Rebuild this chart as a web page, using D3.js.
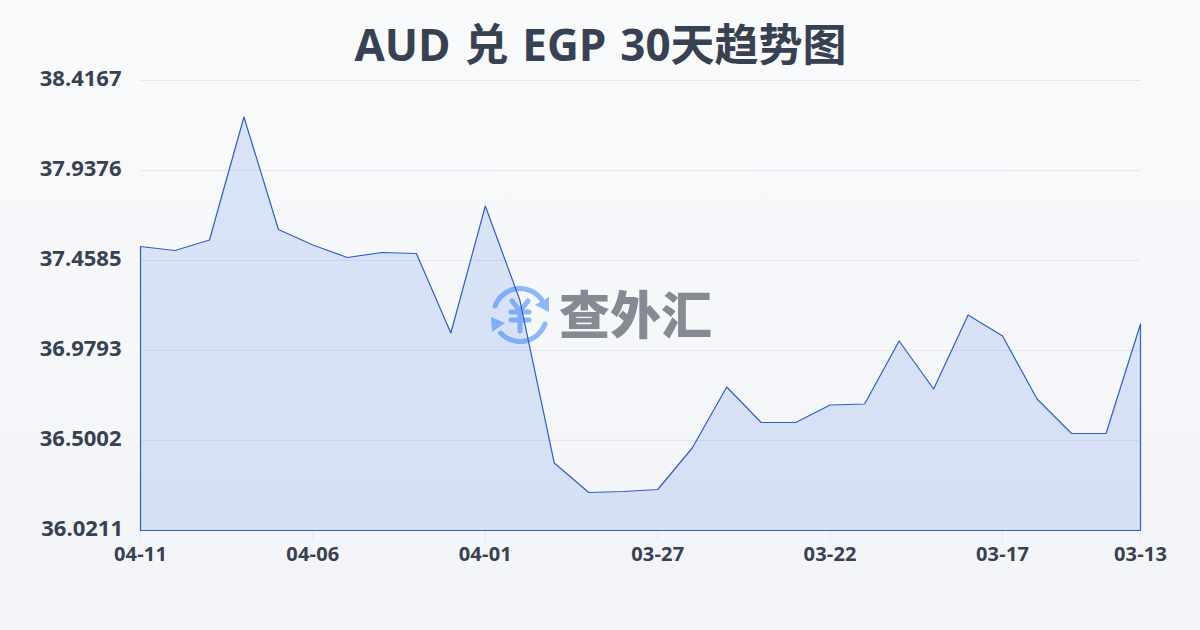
<!DOCTYPE html>
<html><head><meta charset="utf-8">
<script src="https://cdn.jsdelivr.net/npm/d3@7/dist/d3.min.js"></script>
<style>html,body{margin:0;padding:0;background:#f5f7fa}svg{display:block}</style>
</head><body><svg id="c" width="1200" height="630"></svg>
<script>
const titleText = "AUD 兑 EGP 30天趋势图";
const dates = ["04-11","04-10","04-09","04-08","04-07","04-06","04-05","04-04","04-03","04-02","04-01","03-31","03-30","03-29","03-28","03-27","03-26","03-25","03-24","03-23","03-22","03-21","03-20","03-19","03-18","03-17","03-16","03-15","03-14","03-13"];
const rates = [37.5330,37.5116,37.5675,38.2223,37.6234,37.5409,37.4744,37.5010,37.4957,37.0725,37.7485,37.2481,36.3804,36.2234,36.2287,36.2394,36.4603,36.7850,36.5960,36.5960,36.6892,36.6945,37.0299,36.7744,37.1683,37.0565,36.7211,36.5375,36.5375,37.1204];
const yTicks = [36.0211,36.5002,36.9793,37.4585,37.9376,38.4167];
const xTickLabels = ["04-11","04-06","04-01","03-27","03-22","03-17","03-13"];
const watermarkText = "查外汇";

const font = "'Open Sans','Noto Sans CJK SC',sans-serif";
const svg = d3.select("#c");
const defs = svg.append("defs");
const bg = defs.append("linearGradient").attr("id","bg").attr("x1",0).attr("y1",0).attr("x2",0).attr("y2",1);
bg.append("stop").attr("offset","0%").attr("stop-color","#f8fafc");
bg.append("stop").attr("offset","100%").attr("stop-color","#f2f4f7");
svg.append("rect").attr("width",1200).attr("height",630).attr("fill","url(#bg)");

const x = d3.scalePoint().domain(dates).range([140.5,1140.5]);
const y = d3.scaleLinear().domain([36.0211,38.4167]).range([530.5,80.5]);

svg.append("text").attr("x",600.5).attr("y",61).attr("text-anchor","middle").attr("word-spacing",2.4)
  .attr("font-family",font).attr("font-weight",700).attr("font-size",44).attr("fill","#374151").text(titleText);

// grid
svg.append("g").selectAll("line").data(yTicks.slice(1)).join("line")
  .attr("x1",140.5).attr("x2",1140.5).attr("y1",d=>y(d)).attr("y2",d=>y(d))
  .attr("stroke","#e5e7eb").attr("stroke-width",1);

// y labels
svg.append("g").selectAll("text").data(yTicks).join("text")
  .attr("x",(d,i)=>i===0?123:121.5).attr("y",d=>y(d)-3.5).attr("text-anchor","end").attr("dominant-baseline","central")
  .attr("font-family","'Open Sans',sans-serif").attr("font-weight",700).attr("font-size",22).attr("fill","#374151").text(d=>d.toFixed(4));

// x ticks + labels
const xg = svg.append("g");
xg.selectAll("line").data(xTickLabels).join("line")
  .attr("x1",d=>x(d)).attr("x2",d=>x(d)).attr("y1",530.5).attr("y2",541)
  .attr("stroke","#e5e7eb").attr("stroke-width",1);
xg.selectAll("text").data(xTickLabels).join("text")
  .attr("x",d=>x(d)).attr("y",560.5).attr("text-anchor","middle")
  .attr("font-family","'Open Sans',sans-serif").attr("font-weight",700).attr("font-size",20).attr("letter-spacing",0.2).attr("fill","#374151").text(d=>d);

// watermark
const wm = svg.append("g");
const ic = wm.append("g").attr("transform","translate(520,315)");
const arc = d3.arc().innerRadius(24).outerRadius(29).cornerRadius(2.5);
ic.append("path").attr("d",arc({startAngle:-1.32,endAngle:1.04})).attr("fill","#8ab8fa");
ic.append("path").attr("d",arc({startAngle:1.82,endAngle:4.06})).attr("fill","#8ab8fa");
ic.append("path").attr("d",d3.line()([[29,-18],[29,-3],[15,-10]])+"Z").attr("fill","#8ab8fa");
ic.append("path").attr("d",d3.line()([[-29,2],[-28,17],[-15,8]])+"Z").attr("fill","#8ab8fa");
const yen = ic.append("g").attr("stroke","#8ab8fa").attr("stroke-width",5).attr("stroke-linecap","round").attr("fill","none");
yen.append("path").attr("d","M-8,-14L0,-4L8,-14M0,-4V16M-9,-3H9M-9,5H9");
wm.append("text").attr("x",559).attr("y",334).attr("font-family","'Noto Sans CJK SC',sans-serif").attr("font-weight",900).attr("font-size",51)
  .attr("textLength",153).attr("fill","#858a93").text(watermarkText);

// area + line
const base = y.domain()[0];
const area = d3.area().x((d,i)=>x(dates[i])).y0(y(base)).y1(d=>y(d));
svg.append("path").datum(rates).attr("d",area).attr("fill","#4a7be8").attr("fill-opacity",0.17)
  .attr("stroke","#2d5fc4").attr("stroke-width",1.2).attr("stroke-linejoin","round");
</script></body></html>
